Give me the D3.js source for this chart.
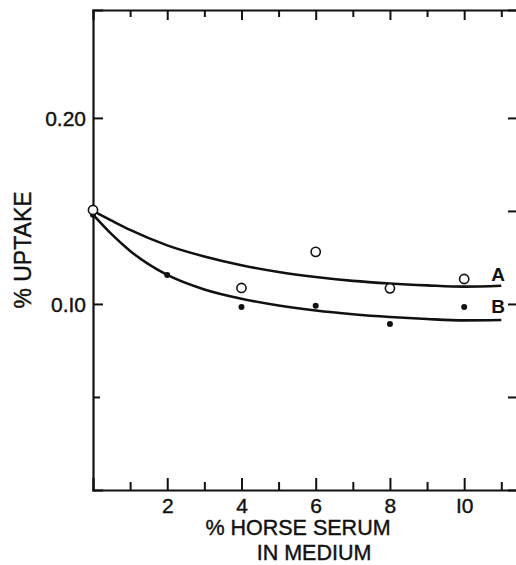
<!DOCTYPE html>
<html>
<head>
<meta charset="utf-8">
<script src="https://cdn.jsdelivr.net/npm/d3@7"></script>
<style>
  html, body { margin: 0; padding: 0; background: #fff; }
  svg { display: block; font-family: "Liberation Sans", Arial, sans-serif; }
</style>
</head>
<body>
<div id="chart"></div>
<script>
// % uptake against % horse serum in the medium, two series (A open, B filled)

const serumA = [0, 4, 6, 8, 10];
const uptakeA = [0.1505, 0.1086, 0.128, 0.1084, 0.1134];
const serumB = [0, 2, 4, 6, 8, 10];
const uptakeB = [0.148, 0.1156, 0.0984, 0.099, 0.0892, 0.0984];

// hand-drawn smooth curves
const curveX = [0, 0.5, 1, 2, 3, 4, 5, 6, 7, 8, 9, 10, 11];
const curveA = [0.150, 0.1448, 0.1398, 0.1315, 0.1255, 0.1208, 0.1172, 0.1145, 0.1124, 0.1110, 0.1100, 0.1093, 0.1098];
const curveB = [0.148, 0.1375, 0.1285, 0.1156, 0.1078, 0.1028, 0.0992, 0.0965, 0.0945, 0.0930, 0.0919, 0.0912, 0.0914];

const xMajor = [2, 4, 6, 8, 10];
const xMinor = [1, 3, 5, 7, 9, 11];
const yLabelled = [0.10, 0.20];
const yLeftMinor = [0.05];
const yRight = [0.05, 0.10, 0.15, 0.20];

const width = 516, height = 565;
const svg = d3.select('#chart').append('svg')
  .attr('width', width).attr('height', height);

const x = d3.scaleLinear().domain([0, 11.45]).range([93, 518]);
const y = d3.scaleLinear().domain([0, 0.258]).range([490, 10]);

const ink = '#111';
const fmtY = d => d.toFixed(2).replace('.1', '.I');

function styleAxis(ax) {
  ax.select('.domain').attr('stroke', ink).attr('stroke-width', 2.2);
  ax.selectAll('.tick line').attr('stroke', ink).attr('stroke-width', 2);
  ax.selectAll('.tick text').attr('fill', ink).attr('font-size', '21px')
    .attr('stroke', ink).attr('stroke-width', 0.4);
}

// bottom axis: labelled majors, short minors, ticks pointing in
svg.append('g').attr('transform', `translate(0,${y(0)})`)
  .call(d3.axisBottom(x).tickValues(xMajor).tickSize(-12).tickPadding(8)
    .tickFormat(d => d === 10 ? 'I0' : d))
  .call(styleAxis);
svg.append('g').attr('transform', `translate(0,${y(0)})`)
  .call(d3.axisBottom(x).tickValues(xMinor).tickSize(-8).tickFormat(''))
  .call(styleAxis)
  .call(ax => ax.select('.domain').remove());

// top axis
svg.append('g').attr('transform', `translate(0,${y(0.258)})`)
  .call(d3.axisTop(x).tickValues(xMajor).tickSize(-10).tickFormat(''))
  .call(styleAxis);
svg.append('g').attr('transform', `translate(0,${y(0.258)})`)
  .call(d3.axisTop(x).tickValues(xMinor).tickSize(-7).tickFormat(''))
  .call(styleAxis)
  .call(ax => ax.select('.domain').remove());

// left axis
svg.append('g').attr('transform', `translate(${x(0)},0)`)
  .call(d3.axisLeft(y).tickValues(yLabelled).tickSize(-10).tickPadding(7).tickFormat(fmtY))
  .call(styleAxis)
  .call(ax => ax.selectAll('.tick text').attr('dy', '0.36em'));
svg.append('g').attr('transform', `translate(${x(0)},0)`)
  .call(d3.axisLeft(y).tickValues(yLeftMinor).tickSize(-7).tickFormat(''))
  .call(styleAxis)
  .call(ax => ax.select('.domain').remove());

// right axis (sits at the page edge)
svg.append('g').attr('transform', `translate(${x(11.45)},0)`)
  .call(d3.axisRight(y).tickValues(yRight).tickSize(-10).tickFormat(''))
  .call(styleAxis);

// curves
const line = d3.line().x(d => x(d[0])).y(d => y(d[1])).curve(d3.curveMonotoneX);
[curveA, curveB].forEach(vals => {
  svg.append('path')
    .datum(curveX.map((v, i) => [v, vals[i]]))
    .attr('d', line)
    .attr('fill', 'none').attr('stroke', ink).attr('stroke-width', 2.6);
});

// B points (filled)
svg.selectAll('.ptB').data(serumB.map((v, i) => [v, uptakeB[i]])).join('circle')
  .attr('class', 'ptB')
  .attr('cx', d => x(d[0])).attr('cy', d => y(d[1]))
  .attr('r', 3).attr('fill', ink);

// A points (open)
svg.selectAll('.ptA').data(serumA.map((v, i) => [v, uptakeA[i]])).join('circle')
  .attr('class', 'ptA')
  .attr('cx', d => x(d[0])).attr('cy', d => y(d[1]))
  .attr('r', 4.6).attr('fill', '#fff').attr('stroke', ink).attr('stroke-width', 1.6);

// curve labels
svg.append('text').attr('x', 498).attr('y', 281).attr('text-anchor', 'middle')
  .attr('font-size', '19px').attr('font-weight', 'bold').attr('fill', ink).text('A');
svg.append('text').attr('x', 498).attr('y', 313).attr('text-anchor', 'middle')
  .attr('font-size', '19px').attr('font-weight', 'bold').attr('fill', ink).text('B');

// axis titles
const title = sel => sel.attr('font-size', '21.5px').attr('fill', ink)
  .attr('stroke', ink).attr('stroke-width', 0.4);
svg.append('text').attr('x', 298).attr('y', 535).attr('text-anchor', 'middle')
  .call(title).text('% HORSE SERUM');
svg.append('text').attr('x', 314).attr('y', 560).attr('text-anchor', 'middle')
  .call(title).text('IN MEDIUM');
svg.append('text')
  .attr('transform', 'translate(31,250) rotate(-90)')
  .attr('text-anchor', 'middle')
  .attr('font-size', '23px').attr('fill', ink)
  .attr('stroke', ink).attr('stroke-width', 0.4).text('% UPTAKE');
</script>
</body>
</html>
